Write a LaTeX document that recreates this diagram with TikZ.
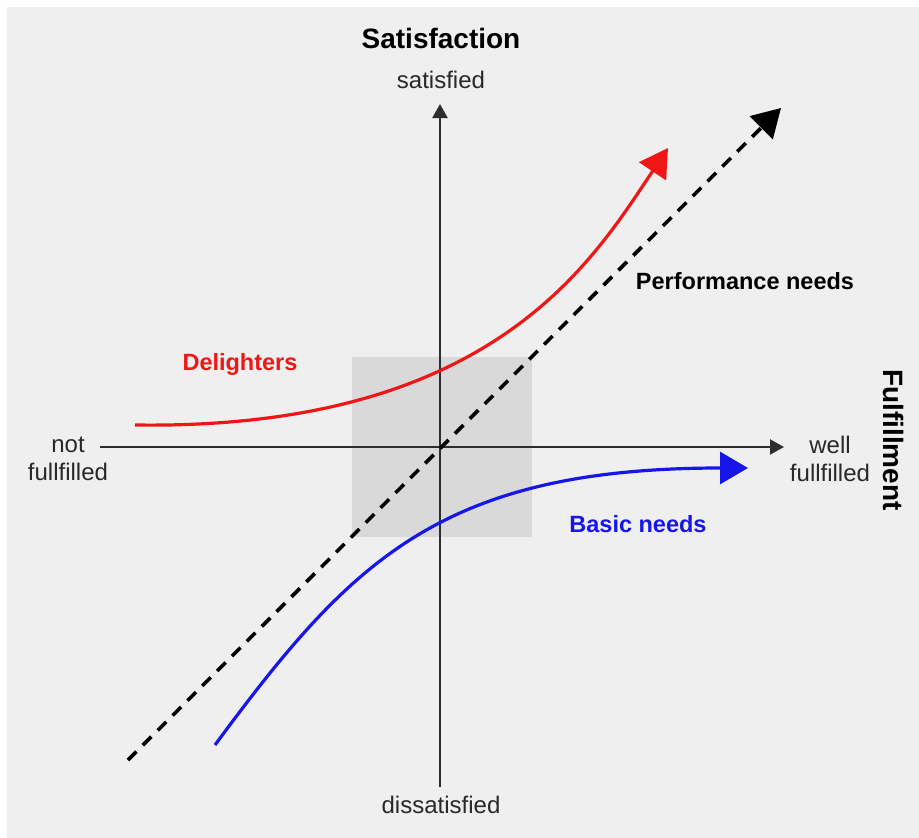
\documentclass[tikz,border=0pt]{standalone}
\usepackage{fontspec}
\setmainfont{Liberation Sans}
\usetikzlibrary{arrows.meta}
\definecolor{bg}{RGB}{239,239,239}
\definecolor{zone}{RGB}{217,217,217}
\definecolor{axisgray}{RGB}{45,45,45}
\definecolor{lblgray}{RGB}{40,40,40}
\definecolor{dred}{RGB}{240,22,22}
\definecolor{bblue}{RGB}{22,22,232}
\begin{document}
\begin{tikzpicture}[x=1pt,y=-1pt,
  axislbl/.style={font=\fontsize{24}{28}\selectfont, text=lblgray, align=center, inner sep=0pt},
  titlelbl/.style={font=\fontsize{28}{32}\selectfont\bfseries, inner sep=0pt},
  curvelbl/.style={font=\fontsize{23.5}{28}\selectfont\bfseries, inner sep=0pt},
  axisline/.style={line width=2.2pt, draw=axisgray, -{Triangle[length=14pt,width=15pt]}},
  curve/.style={line width=3.2pt, -{Triangle[length=28pt,width=32pt]}}]
% canvas
\useasboundingbox (0,0) rectangle (919,838);
\fill[bg] (7,7) rectangle (919,838);
% indifferent zone around the origin
\fill[zone] (352,357) rectangle (532,537);

% axes
\coordinate (xl) at (100,447);
\coordinate (xr) at (784,447);
\coordinate (yb) at (440,787);
\coordinate (yt) at (440,104);
\draw[axisline] (xl) -- (xr);
\draw[axisline] (yb) -- (yt);

% performance needs: straight dashed diagonal
\coordinate (p0) at (128,760);
\coordinate (p1) at (781,108);
\draw[curve, line width=3.6pt, dash pattern=on 12pt off 9pt] (p0) -- (p1);

% delighters
\coordinate (d0) at (135,425);
\coordinate (d1) at (668,148);
\draw[curve, dred] (d0) .. controls (492,430) and (592,262) .. (d1);

% basic needs
\coordinate (b0) at (215,745);
\coordinate (b1) at (748,468);
\draw[curve, bblue] (b0) .. controls (350,562) and (440,468) .. (b1);

% labels
\node[titlelbl] (tsat) at (441,38) {Satisfaction};
\node[axislbl] (lsat) at (441,80) {satisfied};
\node[axislbl] (ldis) at (441,805) {dissatisfied};
\node[axislbl] (lnot) at (68,459) {not\\fullfilled};
\node[axislbl] (lwell) at (830,459) {well\\fullfilled};
\node[titlelbl, rotate=-90] (tful) at (893,440) {Fulfillment};
\node[curvelbl] (lperf) at (745,281) {Performance needs};
\node[curvelbl, text=dred, anchor=base] (ldel) at (240,370) {Delighters};
\node[curvelbl, text=bblue, anchor=base] (lbas) at (638,532) {Basic needs};
\end{tikzpicture}
\end{document}
